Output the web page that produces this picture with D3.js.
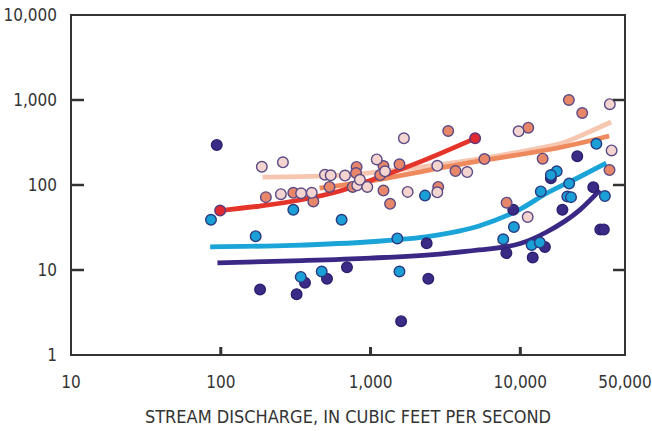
<!DOCTYPE html>
<html>
<head>
<meta charset="utf-8">
<script src="https://cdn.jsdelivr.net/npm/d3@7"></script>
<style>
  html, body { margin: 0; padding: 0; background: #fff; }
  svg { display: block; }
  .lbl { font-family: "Liberation Sans Narrow", "DejaVu Sans Condensed", "Roboto Condensed", sans-serif; fill: #333; }
</style>
</head>
<body>
<svg id="chart" width="652" height="431"></svg>
<script>
// Axis ticks
const xTicks = [10, 100, 1000, 10000, 50000];
const yTicks = [1, 10, 100, 1000, 10000];
const xTitle = "STREAM DISCHARGE, IN CUBIC FEET PER SECOND";

// Observations: [discharge (cfs), concentration]
const darkPoints = [
  [94, 296], [183, 5.9], [321, 5.2], [365, 7.1], [512, 7.9], [696, 10.8],
  [2370, 20.6], [2430, 7.9], [1600, 2.5], [8970, 51], [8070, 15.8],
  [14600, 18.6], [12100, 14], [16000, 120], [24000, 218], [19100, 51],
  [30700, 94], [34200, 30], [36100, 30]
];
const cyanPoints = [
  [86, 39], [305, 51], [171, 25], [342, 8.3], [472, 9.6], [641, 39],
  [1510, 23.5], [1560, 9.6], [2310, 75], [9060, 32], [7690, 23],
  [11900, 19.7], [13500, 21], [13700, 84], [17500, 145], [16000, 131],
  [21200, 104], [20600, 73], [21800, 72], [32200, 305], [36700, 74]
];
const salmonPoints = [
  [200, 72], [305, 81], [415, 64], [532, 95], [760, 95], [807, 163],
  [800, 138], [1220, 167], [1160, 131], [1220, 86], [1350, 60], [1560, 175],
  [2830, 95], [3300, 432], [3690, 146], [5760, 202], [8100, 62],
  [11300, 472], [14100, 204], [21100, 1000], [25900, 703], [39400, 150]
];
const pinkPoints = [
  [188, 164], [260, 185], [252, 78], [344, 80], [405, 81], [496, 132],
  [542, 130], [675, 129], [815, 99], [849, 115], [951, 95], [1100, 200],
  [1250, 145], [1670, 354], [1770, 83], [2790, 168], [2790, 82],
  [4420, 142], [9740, 428], [11200, 42], [39600, 893], [40700, 255]
];
const redPoints = [[99, 50], [4990, 354]];

// Fitted curves: [discharge, concentration]
const darkCurve = [[95, 12.1], [300, 12.8], [1000, 13.8], [3000, 15.5], [5300, 17.2],
  [10000, 20.5], [15000, 28], [25000, 51], [34000, 87]];
const cyanCurve = [[85, 18.7], [300, 19.5], [1000, 21.5], [2500, 25], [5300, 33],
  [10000, 52], [15000, 80], [25000, 125], [37500, 181]];
const redCurve = [[99, 50], [183, 56.6], [338, 66.6], [625, 85], [1156, 124],
  [2138, 187], [4990, 354]];
const pinkCurve = [[190, 124], [533, 128], [985, 139], [2470, 168], [5330, 203],
  [11500, 258], [19050, 312], [28800, 421], [40400, 551]];
const salmonCurve = [[457, 92], [985, 111], [2470, 150], [5330, 192],
  [11500, 238], [19050, 280], [28800, 329], [39200, 377]];

const svg = d3.select("#chart");
const plotL = 71, plotR = 625, plotT = 15, plotB = 355;

const x = d3.scaleLog().domain([10, 50000]).range([plotL, plotR]);
const y = d3.scaleLog().domain([1, 10000]).range([plotB, plotT]);

// Fitted curves
const line = d3.line().x(d => x(d[0])).y(d => y(d[1])).curve(d3.curveMonotoneX);
const curves = [
  { data: pinkCurve, color: "#f7c6b0" },
  { data: salmonCurve, color: "#ee8a5e" },
  { data: redCurve, color: "#e5352a" },
  { data: cyanCurve, color: "#1ba4d8" },
  { data: darkCurve, color: "#3a2884" }
];
svg.append("g").selectAll("path").data(curves).join("path")
  .attr("d", d => line(d.data))
  .attr("fill", "none")
  .attr("stroke", d => d.color)
  .attr("stroke-width", 4.8)
  .attr("stroke-linecap", "butt");

// Observation markers
const groups = [
  { data: darkPoints, fill: "#3b2b86", stroke: "#2c2070" },
  { data: cyanPoints, fill: "#1a9fd6", stroke: "#2a3a80" },
  { data: salmonPoints, fill: "#e8866a", stroke: "#5a4a86" },
  { data: pinkPoints, fill: "#f4d4cf", stroke: "#5a4a86" },
  { data: redPoints, fill: "#e02a32", stroke: "#5a3a7a" }
];
groups.forEach(g => {
  svg.append("g").selectAll("circle").data(g.data).join("circle")
    .attr("cx", d => x(d[0]))
    .attr("cy", d => y(d[1]))
    .attr("r", 5.3)
    .attr("fill", g.fill)
    .attr("stroke", g.stroke)
    .attr("stroke-width", 1.4);
});

// Frame
const frameColor = "#333";
svg.append("rect")
  .attr("x", plotL).attr("y", plotT)
  .attr("width", plotR - plotL).attr("height", plotB - plotT)
  .attr("fill", "none").attr("stroke", frameColor).attr("stroke-width", 2);

// Inward ticks
const fmt = d3.format(",");
const inner = yTicks.slice(1, -1);
svg.append("g").selectAll("line").data(inner).join("line")
  .attr("x1", plotL).attr("x2", plotL + 13)
  .attr("y1", d => y(d)).attr("y2", d => y(d))
  .attr("stroke", frameColor).attr("stroke-width", 2.5);
svg.append("g").selectAll("line").data(inner).join("line")
  .attr("x1", plotR - 12).attr("x2", plotR)
  .attr("y1", d => y(d)).attr("y2", d => y(d))
  .attr("stroke", frameColor).attr("stroke-width", 2.5);
svg.append("g").selectAll("line").data(xTicks.slice(1, -1)).join("line")
  .attr("x1", d => x(d)).attr("x2", d => x(d))
  .attr("y1", plotB - 8).attr("y2", plotB)
  .attr("stroke", frameColor).attr("stroke-width", 3);

// Tick labels
svg.append("g").selectAll("text").data(yTicks).join("text")
  .attr("class", "lbl")
  .attr("x", plotL - 14)
  .attr("y", d => y(d))
  .attr("dy", "0.36em")
  .attr("text-anchor", "end")
  .attr("font-size", 17)
  .text(d => fmt(d));

svg.append("g").selectAll("text").data(xTicks).join("text")
  .attr("class", "lbl")
  .attr("x", d => x(d))
  .attr("y", 382)
  .attr("dy", "0.36em")
  .attr("text-anchor", "middle")
  .attr("font-size", 17)
  .text(d => fmt(d));

svg.append("text")
  .attr("class", "lbl")
  .attr("x", (plotL + plotR) / 2)
  .attr("y", 417)
  .attr("dy", "0.36em")
  .attr("text-anchor", "middle")
  .attr("font-size", 18)
  .text(xTitle);
</script>
</body>
</html>
